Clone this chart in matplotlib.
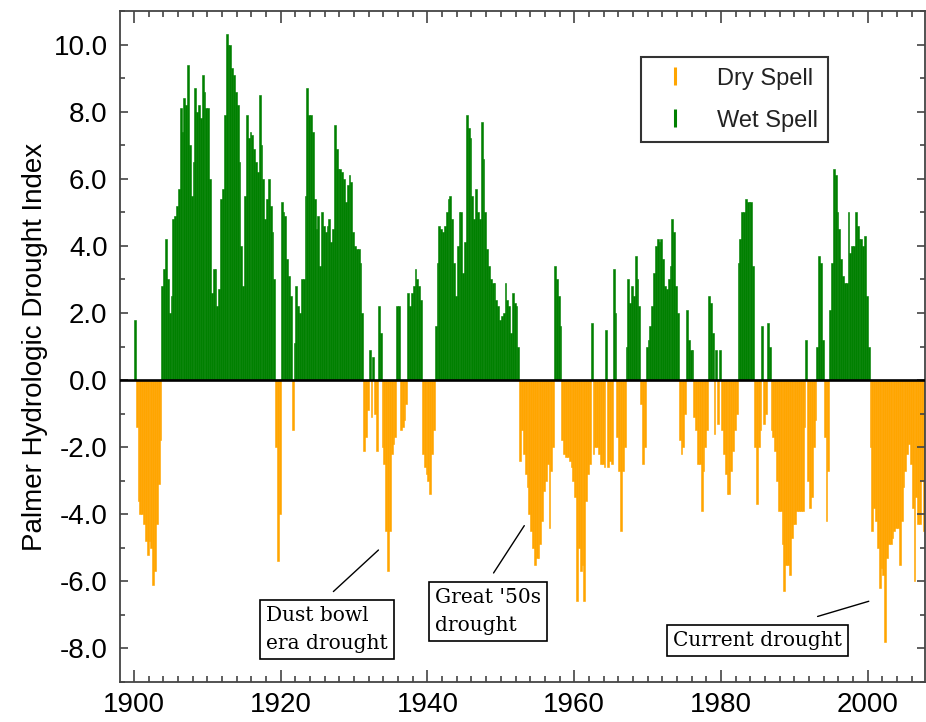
import matplotlib
matplotlib.use("Agg")
import matplotlib.pyplot as plt
import numpy as np
from matplotlib.lines import Line2D
from matplotlib.ticker import MultipleLocator, FormatStrFormatter

plt.rcParams["font.family"] = ["Liberation Sans", "DejaVu Sans"]
plt.rcParams["axes.unicode_minus"] = False

# Palmer Hydrologic Drought Index, quarterly values, one row per year
phdi_1900s = [
    1.8, -1.4, -3.6, -4.0,
    -4.0, -4.3, -4.8, -5.2,
    -4.8, -5.0, -6.1, -5.7,
    -4.3, -3.1, -1.8, 2.8,
    3.3, 4.2, 3.0, 2.0,
    2.5, 4.8, 4.9, 5.2,
    5.7, 8.1, 7.4, 8.4,
    8.2, 9.4, 7.0, 5.5,
    6.5, 8.7, 8.0, 8.2,
    7.8, 9.1, 8.6, 8.1,
]
phdi_1910s = [
    8.1, 6.0, 2.6, 3.3,
    3.3, 2.2, 2.7, 5.4,
    5.7, 7.9, 10.3, 10.0,
    10.0, 9.3, 9.1, 8.6,
    8.2, 6.5, 4.0, 2.8,
    5.5, 7.9, 7.2, 7.4,
    7.3, 6.9, 6.5, 6.2,
    8.5, 7.0, 6.0, 4.8,
    5.4, 6.0, 5.2, 4.4,
    3.0, -2.0, -5.4, -4.0,
]
phdi_1920s = [
    5.3, 5.0, 4.9, 3.6,
    3.1, 2.5, -1.5, 1.1,
    2.8, 2.2, 2.0, 3.0,
    3.0, 5.5, 8.7, 7.9,
    7.9, 7.4, 5.4, 4.5,
    4.9, 3.4, 5.0, 4.6,
    4.4, 4.6, 4.8, 4.1,
    4.5, 7.6, 6.9, 6.3,
    6.3, 6.2, 6.0, 5.3,
    5.8, 6.1, 5.9, 4.4,
]
phdi_1930s = [
    4.0, 3.9, 3.9, 3.5,
    2.0, -2.1, -1.7, -0.9,
    0.9, -1.1, 0.7, -1.0,
    -2.1, 2.2, 1.4, -2.0,
    -2.5, -4.5, -5.7, -4.5,
    -2.2, -1.9, -1.7, 2.2,
    2.2, -1.5, -1.4, -1.2,
    -0.7, 2.6, 2.2, 2.6,
    2.8, 3.3, 3.0, 2.8,
    2.4, -2.2, -2.6, -2.8,
]
phdi_1940s = [
    -3.0, -3.4, -2.2, -1.5,
    1.6, 3.5, 4.6, 4.5,
    4.4, 4.6, 5.0, 5.4,
    5.5, 4.8, 3.5, 2.5,
    4.0, 5.0, 5.0, 3.2,
    4.1, 7.9, 7.5, 7.2,
    5.5, 4.8, 5.7, 5.0,
    4.8, 7.7, 6.6, 5.0,
    3.9, 3.4, 3.0, 2.9,
    2.9, 2.4, 2.2, 1.8,
]
phdi_1950s = [
    1.9, 2.0, 2.9, 2.4,
    2.2, 1.4, 2.6, 2.3,
    2.2, 1.0, -2.4, -1.5,
    -2.2, -2.8, -3.2, -4.0,
    -4.5, -5.0, -5.5, -5.3,
    -5.3, -4.9, -4.2, -3.3,
    -3.0, -2.5, -4.4, -2.7,
    -2.0, 3.4, 3.0, 2.5,
    1.6, -1.8, -2.2, -2.3,
    -2.3, -2.4, -2.6, -3.0,
]
phdi_1960s = [
    -3.5, -6.6, -5.0, -5.7,
    -5.5, -6.6, -3.6, -2.8,
    -2.5, 1.7, -2.2, -2.0,
    -2.0, -2.2, -2.5, -2.5,
    -2.6, 1.5, -2.6, -2.4,
    -2.5, 3.3, 2.0, -1.7,
    -2.7, -4.5, -2.7, -2.0,
    1.0, 3.0, 2.3, 2.8,
    2.5, 3.7, 3.0, 2.2,
    -0.7, -2.5, -2.0, 1.0,
]
phdi_1970s = [
    1.2, 1.6, 2.2, 3.2,
    4.0, 4.2, 4.1, 4.2,
    3.6, 2.8, 2.7, 3.0,
    3.4, 4.8, 4.4, 2.8,
    2.0, -1.8, -2.2, -2.0,
    -1.0, 2.1, 1.2, 0.9,
    0.9, -1.1, -1.5, -2.5,
    -2.5, -3.9, -2.7, -2.0,
    -1.5, 2.5, 2.3, 1.4,
    -1.6, 0.9, -1.3, 0.9,
]
phdi_1980s = [
    -1.5, -2.2, -2.8, -3.4,
    -3.4, -2.7, -2.1, -1.5,
    -1.0, 3.5, 4.2, 5.0,
    5.0, 5.4, 5.3, 5.3,
    5.3, 3.4, -2.0, -3.7,
    -2.0, -1.5, 1.6, -1.3,
    -1.0, 1.7, 1.0, -1.5,
    -1.7, -2.1, -3.0, -3.9,
    -3.9, -4.9, -6.3, -5.5,
    -5.5, -5.8, -4.7, -4.3,
]
phdi_1990s = [
    -4.3, -3.9, -3.9, -3.9,
    -3.9, -1.4, 1.2, -3.0,
    -3.8, -3.5, -2.0, -1.2,
    1.0, 3.7, 3.5, 1.2,
    -1.7, -4.2, -2.7, 2.1,
    3.5, 6.3, 6.1, 5.0,
    4.5, 3.6, 3.1, 2.9,
    2.9, 5.0, 3.8, 4.0,
    4.0, 5.0, 4.6, 4.2,
    4.2, 4.0, 4.3, 2.5,
]
phdi_2000s = [
    1.0, -2.0, -4.5, -3.8,
    -4.2, -5.0, -6.2, -5.6,
    -5.8, -7.8, -5.3, -4.9,
    -4.9, -4.7, -4.5, -4.4,
    -4.4, -5.5, -4.2, -3.2,
    -2.7, -2.2, -1.9, -2.5,
    -3.8, -6.0, -3.5, -4.3,
    -4.3, -3.0, -4.5,
]

phdi = np.array(phdi_1900s + phdi_1910s + phdi_1920s + phdi_1930s + phdi_1940s
                + phdi_1950s + phdi_1960s + phdi_1970s + phdi_1980s
                + phdi_1990s + phdi_2000s)
start_year = 1900
step = 0.25
t = start_year + np.arange(len(phdi)) * step

dry_color = "#FFA500"
wet_color = "#008000"
colors = np.where(phdi < 0, dry_color, wet_color)

fig = plt.figure(figsize=(9.26, 7.22), dpi=100)
ax = fig.add_axes([120 / 926, 40 / 722, 805 / 926, 671 / 722])

# thin matching edges close the hairline gaps between neighbouring bars
ax.bar(t, phdi, width=step, align="edge", color=colors, edgecolor=colors,
       linewidth=0.4)
ax.axhline(0, color="black", linewidth=1.9, zorder=3)

ax.set_xlim(1898.1, 2007.8)
ax.set_ylim(-9, 11)

ax.xaxis.set_major_locator(MultipleLocator(20))
ax.xaxis.set_minor_locator(MultipleLocator(2))
ax.yaxis.set_major_locator(MultipleLocator(2))
ax.yaxis.set_minor_locator(MultipleLocator(1))
ax.yaxis.set_major_formatter(FormatStrFormatter("%.1f"))

ax.tick_params(axis="both", which="both", direction="in", top=True, right=True,
               color="#444444", width=1.2, labelsize=20)
ax.tick_params(axis="x", which="major", length=8.6, pad=7)
ax.tick_params(axis="x", which="minor", length=4.3)
ax.tick_params(axis="y", which="major", length=5.8, pad=9)
ax.tick_params(axis="y", which="minor", length=3.6)
for s in ax.spines.values():
    s.set_color("#444444")
    s.set_linewidth(1.3)

ax.set_ylabel("Palmer Hydrologic Drought Index", fontsize=20, labelpad=4)

# legend with short vertical ticks as handles
handles = [
    Line2D([], [], color=dry_color, marker="|", linestyle="none",
           markersize=13, markeredgewidth=2.2),
    Line2D([], [], color=wet_color, marker="|", linestyle="none",
           markersize=13, markeredgewidth=2.2),
]
leg = ax.legend(handles, ["Dry Spell", "Wet Spell"], loc="upper left",
                bbox_to_anchor=(641 / 926, 1 - 57 / 722),
                bbox_transform=fig.transFigure, fontsize=17, frameon=True,
                fancybox=False, edgecolor="black", borderpad=0.45,
                handlelength=2.0, handletextpad=0.75, labelspacing=0.85,
                borderaxespad=0)
leg.get_frame().set_linewidth(1.5)
for txt in leg.get_texts():
    txt.set_color("#222222")

# event labels
box = dict(boxstyle="square,pad=0.3", facecolor="white", edgecolor="black",
           linewidth=1.2)
serif = ["DejaVu Serif"]
ax.text(1918.0, -7.43, "Dust bowl\nera drought", ha="left", va="center",
        fontsize=14.5, family=serif, bbox=box, linespacing=1.6)
ax.annotate("", xy=(1933.6, -5.01), xytext=(1926.9, -6.36),
            arrowprops=dict(arrowstyle="-", color="black", lw=1.0))

ax.text(1941.0, -6.9, "Great '50s\ndrought", ha="left", va="center",
        fontsize=14.5, family=serif, bbox=box, linespacing=1.6)
ax.annotate("", xy=(1953.4, -4.27), xytext=(1948.8, -5.82),
            arrowprops=dict(arrowstyle="-", color="black", lw=1.0))

ax.text(1985.0, -7.76, "Current drought", ha="center", va="center",
        fontsize=14.5, family=serif, bbox=box)
ax.annotate("", xy=(2000.5, -6.57), xytext=(1992.8, -7.07),
            arrowprops=dict(arrowstyle="-", color="black", lw=1.0))

fig.savefig("out.png", dpi=100)
